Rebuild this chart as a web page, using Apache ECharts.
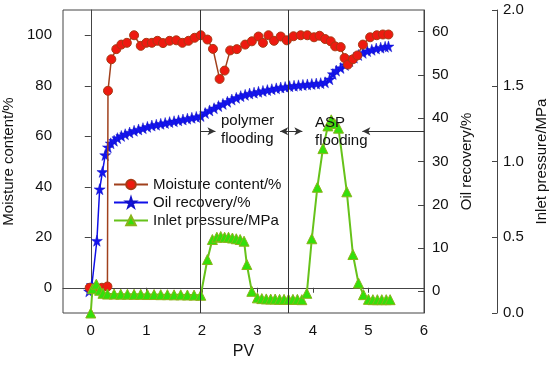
<!DOCTYPE html>
<html>
<head>
<meta charset="utf-8">
<script src="https://cdn.jsdelivr.net/npm/echarts@6/dist/echarts.min.js"></script>
<style>html,body{margin:0;padding:0;background:#fff}#c{width:550px;height:366px}</style>
</head>
<body>
<div id="c"></div>
<script>
// ---- data ----
const pvTicks = [0, 1, 2, 3, 4, 5, 6];
const moistureTicks = [0, 20, 40, 60, 80, 100];
const oilTicks = [0, 10, 20, 30, 40, 50, 60];
const pressureTicks = [0, 0.5, 1.0, 1.5, 2.0];
const stageBoundaries = [1.976, 3.551];

const moisturePV = [-0.02, 0.1, 0.2, 0.3, 0.31, 0.37, 0.46, 0.55, 0.65, 0.78, 0.9, 1.0, 1.1, 1.2, 1.3, 1.42, 1.54, 1.65, 1.76, 1.87, 1.98, 2.1, 2.2, 2.32, 2.41, 2.51, 2.63, 2.78, 2.9, 3.02, 3.1, 3.2, 3.3, 3.42, 3.53, 3.65, 3.78, 3.9, 4.02, 4.12, 4.22, 4.32, 4.4, 4.5, 4.57, 4.63, 4.72, 4.8, 4.9, 5.03, 5.15, 5.26, 5.36];
const moisture = [0, 0, 0, 0.5, 78, 90.5, 94.5, 96.3, 97, 100, 95.8, 97, 97, 97.8, 96.9, 97.8, 98, 97, 97.8, 99, 100, 98.3, 94.6, 82.7, 86, 94, 94.5, 96.3, 97.6, 99.5, 97, 100, 97.8, 99.5, 98, 99.6, 100, 100, 99.2, 99.8, 98.5, 97.6, 95.6, 95.3, 91, 88.4, 90.5, 92, 96.3, 99.2, 100, 100.3, 100.3];

const oilPV = [-0.03, 0.02, 0.11, 0.16, 0.21, 0.26, 0.31, 0.36, 0.42, 0.48, 0.55, 0.62, 0.7, 0.78, 0.86, 0.94, 1.02, 1.1, 1.18, 1.26, 1.34, 1.42, 1.5, 1.58, 1.66, 1.74, 1.82, 1.9, 1.98, 2.06, 2.14, 2.22, 2.3, 2.38, 2.46, 2.54, 2.62, 2.7, 2.78, 2.86, 2.94, 3.02, 3.1, 3.18, 3.26, 3.34, 3.42, 3.5, 3.58, 3.66, 3.74, 3.82, 3.9, 3.98, 4.06, 4.14, 4.22, 4.3, 4.36, 4.42, 4.5, 4.58, 4.66, 4.74, 4.82, 4.9, 4.98, 5.06, 5.14, 5.22, 5.3, 5.36];
const oil = [0, 1.5, 11.7, 23.6, 27.6, 31.5, 33.3, 34.2, 34.8, 35.4, 35.9, 36.3, 36.7, 37.1, 37.4, 37.7, 38, 38.3, 38.5, 38.7, 38.9, 39.1, 39.3, 39.5, 39.7, 39.9, 40.1, 40.3, 40.5, 41.2, 41.8, 42.3, 42.8, 43.3, 43.8, 44.3, 44.7, 45.1, 45.4, 45.7, 45.9, 46.1, 46.3, 46.5, 46.7, 46.9, 47.1, 47.2, 47.4, 47.5, 47.6, 47.7, 47.8, 47.9, 48.0, 48.1, 48.3, 49.0, 50.2, 51.0, 51.6, 52.3, 53.2, 54.0, 54.6, 55.1, 55.5, 55.8, 56.1, 56.3, 56.5, 56.6];

const pressurePV = [0, 0.03, 0.1, 0.16, 0.22, 0.3, 0.42, 0.54, 0.66, 0.78, 0.9, 1.02, 1.14, 1.26, 1.38, 1.5, 1.62, 1.74, 1.86, 1.98, 2.1, 2.19, 2.27, 2.34, 2.41, 2.48, 2.55, 2.62, 2.69, 2.76, 2.81, 2.9, 3.0, 3.08, 3.16, 3.24, 3.32, 3.4, 3.48, 3.56, 3.64, 3.72, 3.8, 3.89, 3.98, 4.08, 4.18, 4.27, 4.33, 4.39, 4.46, 4.61, 4.72, 4.82, 4.91, 5.0, 5.08, 5.16, 5.24, 5.32, 5.39];
const pressure = [0.0, 0.16, 0.19, 0.15, 0.13, 0.125, 0.125, 0.124, 0.124, 0.123, 0.123, 0.122, 0.122, 0.121, 0.121, 0.12, 0.12, 0.119, 0.118, 0.117, 0.353, 0.485, 0.5, 0.505, 0.5, 0.5, 0.495, 0.49, 0.485, 0.474, 0.32, 0.143, 0.1, 0.095, 0.093, 0.092, 0.092, 0.09, 0.09, 0.09, 0.09, 0.09, 0.088, 0.13, 0.49, 0.83, 1.085, 1.235, 1.275, 1.25, 1.22, 0.80, 0.386, 0.198, 0.121, 0.09, 0.088, 0.088, 0.088, 0.088, 0.088];

// ---- chart ----
const zip = (xs, ys) => xs.map((x, i) => [x, ys[i]]);
const FONT = 'Liberation Sans, Arial, sans-serif';
const AX = '#444';
const starPath = 'path://M50,0 L61,35 L98,35 L68,57 L79,91 L50,70 L21,91 L32,57 L2,35 L39,35 Z';
const arrowY = 62;

const chart = echarts.init(document.getElementById('c'), null, {renderer: 'canvas'});
chart.setOption({
  animation: false,
  backgroundColor: '#fff',
  textStyle: {fontFamily: FONT},
  grid: {left: 63, right: 126, top: 10, bottom: 53, containLabel: false, outerBoundsMode: 'none',
    show: true, borderColor: AX, borderWidth: 1, backgroundColor: 'transparent'},
  legend: {
    orient: 'vertical', left: 108, top: 172, itemWidth: 34, itemHeight: 12, itemGap: 3,
    textStyle: {fontSize: 15, color: '#111', fontFamily: FONT},
    data: ['Moisture content/%', 'Oil recovery/%', 'Inlet pressure/MPa']
  },
  xAxis: {
    type: 'value', min: -0.5, max: 6,
    name: 'PV', nameLocation: 'middle', nameGap: 31,
    nameTextStyle: {fontSize: 16, color: '#111', fontFamily: FONT},
    axisLine: {lineStyle: {color: AX}},
    axisTick: {show: true, length: 5, customValues: pvTicks, lineStyle: {color: AX}},
    axisLabel: {fontSize: 15, color: '#111', margin: 10, customValues: pvTicks, fontFamily: FONT},
    splitLine: {show: false}
  },
  yAxis: [
    {
      type: 'value', min: -10, max: 110, position: 'left',
      name: 'Moisture content/%', nameLocation: 'middle', nameGap: 37,
      nameTextStyle: {fontSize: 15, color: '#111', fontFamily: FONT},
      axisLine: {show: true, lineStyle: {color: AX}},
      axisTick: {show: true, length: 6, customValues: moistureTicks, lineStyle: {color: AX}},
      axisLabel: {fontSize: 15, color: '#111', margin: 11, customValues: moistureTicks, fontFamily: FONT},
      splitLine: {show: false}
    },
    {
      type: 'value', min: -5, max: 65, position: 'right',
      name: 'Oil recovery/%', nameLocation: 'middle', nameGap: 25,
      nameTextStyle: {fontSize: 15, color: '#111', fontFamily: FONT},
      axisLine: {show: true, lineStyle: {color: AX}},
      axisTick: {show: true, inside: true, length: 6, customValues: oilTicks, lineStyle: {color: AX}},
      axisLabel: {fontSize: 15, color: '#111', margin: 8, customValues: oilTicks, fontFamily: FONT},
      splitLine: {show: false}
    },
    {
      type: 'value', min: 0, max: 2, position: 'right', offset: 73,
      name: 'Inlet pressure/MPa', nameLocation: 'middle', nameGap: 24,
      nameTextStyle: {fontSize: 15, color: '#111', fontFamily: FONT},
      axisLine: {show: true, lineStyle: {color: AX}},
      axisTick: {show: true, inside: true, length: 5, customValues: pressureTicks, lineStyle: {color: AX}},
      axisLabel: {fontSize: 15, color: '#111', margin: 6, customValues: pressureTicks, fontFamily: FONT,
        formatter: v => Number(v).toFixed(1)},
      splitLine: {show: false}
    }
  ],
  series: [
    {
      name: 'Moisture content/%', type: 'line', yAxisIndex: 0, z: 3,
      data: zip(moisturePV, moisture),
      symbol: 'circle', symbolSize: 9, showAllSymbol: true,
      lineStyle: {color: '#a0401c', width: 1.5},
      itemStyle: {color: '#ee1a10', borderColor: '#a83a14', borderWidth: 1},
      markLine: {
        silent: true, symbol: 'none', animation: false,
        label: {show: false},
        lineStyle: {color: '#333', width: 1, type: 'solid'},
        data: [
          {xAxis: stageBoundaries[0]},
          {xAxis: stageBoundaries[1]},
          [{coord: [stageBoundaries[0], arrowY], symbol: 'none'}, {coord: [2.245, arrowY], symbol: 'arrow', symbolSize: [6, 8]}],
          [{coord: [stageBoundaries[1], arrowY], symbol: 'none'}, {coord: [3.41, arrowY], symbol: 'arrow', symbolSize: [6, 8]}],
          [{coord: [stageBoundaries[1], arrowY], symbol: 'none'}, {coord: [3.81, arrowY], symbol: 'arrow', symbolSize: [6, 8]}],
          [{coord: [6, arrowY], symbol: 'none'}, {coord: [4.89, arrowY], symbol: 'arrow', symbolSize: [6, 8]}]
        ]
      }
    },
    {
      name: 'Oil recovery/%', type: 'line', yAxisIndex: 1, z: 2,
      data: zip(oilPV, oil),
      symbol: starPath, symbolSize: 11, showAllSymbol: true,
      lineStyle: {color: '#1010e8', width: 1.5},
      itemStyle: {color: '#1414ee', borderColor: '#1010c8', borderWidth: 0.5}
    },
    {
      name: 'Inlet pressure/MPa', type: 'line', yAxisIndex: 2, z: 4,
      data: zip(pressurePV, pressure),
      symbol: 'triangle', symbolSize: 10, showAllSymbol: true,
      lineStyle: {color: '#66c21a', width: 2},
      itemStyle: {color: '#33e00a', borderColor: '#8ab41a', borderWidth: 1}
    }
  ],
  graphic: [
    {type: 'text', left: 221, top: 112, z: 100,
      style: {text: 'polymer\nflooding', font: '15px ' + FONT, fill: '#111', lineHeight: 18}},
    {type: 'text', left: 315, top: 114, z: 100,
      style: {text: 'ASP\nflooding', font: '15px ' + FONT, fill: '#111', lineHeight: 18}}
  ]
});
</script>
</body>
</html>
